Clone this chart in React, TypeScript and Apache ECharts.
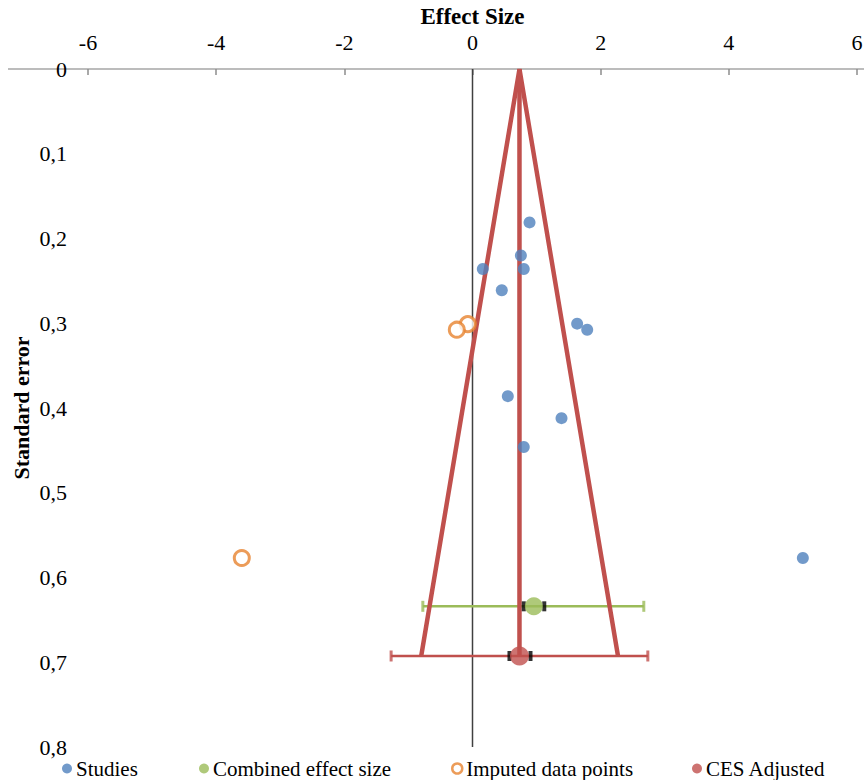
import React, { useEffect, useRef } from "react";
import * as echarts from "echarts";

// ---- data ----
const xTicks = [-6, -4, -2, 0, 2, 4, 6];
const seTicks = [0, 0.1, 0.2, 0.3, 0.4, 0.5, 0.6, 0.7, 0.8];

const studiesES = [0.89, 0.755, 0.161, 0.8, 0.457, 1.633, 1.79, 0.551, 1.389, 0.8, 5.155];
const studiesSE = [0.181, 0.22, 0.236, 0.236, 0.261, 0.3005, 0.3076, 0.386, 0.412, 0.446, 0.577];

const imputedES = [-0.073, -0.245, -3.6];
const imputedSE = [0.301, 0.3076, 0.577];

const combinedPoint = [0.957, 0.634];
const combinedBar = [-0.775, 2.673];
const combinedInner = [0.8, 1.12];

const adjustedPoint = [0.733, 0.6926];
const adjustedBar = [-1.27, 2.736];
const adjustedInner = [0.577, 0.905];

const funnelBase = [-0.8, 2.27];

const FONT = "'Times New Roman', 'Liberation Serif', serif";
const BLUE = "#4F81BD";
const GREEN = "#9BBB59";
const RED = "#C0504D";
const ORANGE = "#E7832F";

export default function App() {
  const ref = useRef<HTMLDivElement>(null);

  useEffect(() => {
    if (!ref.current) return;
    const chart = echarts.init(ref.current, undefined, { renderer: "svg" });

    const studies = studiesES.map((x, i) => [x, studiesSE[i]]);
    const imputed = imputedES.map((x, i) => [x, imputedSE[i]]);
    const funnel = [
      [funnelBase[0], adjustedPoint[1]],
      [adjustedPoint[0], 0],
      [funnelBase[1], adjustedPoint[1]],
    ];
    const vertical = [
      [adjustedPoint[0], 0],
      [adjustedPoint[0], adjustedPoint[1]],
    ];

    const legendItem = (name: string, left: number, itemStyle?: any) => ({
      left,
      top: 758,
      icon: "circle",
      itemWidth: 10,
      itemHeight: 10,
      itemGap: 0,
      padding: 0,
      textStyle: { fontFamily: FONT, fontSize: 21, color: "#000", padding: [0, 0, 0, -1] },
      data: [itemStyle ? { name, itemStyle } : name],
    });

    chart.setOption({
      animation: false,
      backgroundColor: "#fff",
      grid: { left: 88, right: 7, top: 69, bottom: 33, outerBoundsMode: "none", containLabel: false },
      xAxis: {
        type: "value",
        position: "top",
        min: xTicks[0],
        max: xTicks[xTicks.length - 1],
        interval: 2,
        name: "Effect Size",
        nameLocation: "middle",
        nameGap: 41,
        nameMoveOverlap: false,
        nameTextStyle: { fontFamily: FONT, fontSize: 23, fontWeight: "bold", color: "#000" },
        axisLine: { show: false },
        axisTick: { show: true, inside: true, length: 6, lineStyle: { color: "#8C8C8C", width: 1.5 } },
        axisLabel: { fontFamily: FONT, fontSize: 22, color: "#000", margin: 16 },
        splitLine: { show: false },
      },
      yAxis: {
        type: "value",
        inverse: true,
        min: seTicks[0],
        max: seTicks[seTicks.length - 1],
        interval: 0.1,
        name: "Standard error",
        nameLocation: "middle",
        nameGap: 56,
        nameMoveOverlap: false,
        nameRotate: 90,
        nameTextStyle: { fontFamily: FONT, fontSize: 22, fontWeight: "bold", color: "#000" },
        axisLine: { show: false },
        axisTick: { show: false },
        axisLabel: {
          fontFamily: FONT,
          fontSize: 22,
          color: "#000",
          margin: 21,
          verticalAlign: "middle",
          formatter: (v: number) => String(+v.toFixed(1)).replace(".", ","),
        },
        splitLine: { show: false },
      },
      legend: [
        legendItem("Studies", 62),
        legendItem("Combined effect size", 199),
        legendItem("Imputed data points", 451, { color: "#fff", borderColor: ORANGE, borderWidth: 2.5 }),
        legendItem("CES Adjusted", 692),
      ],
      graphic: [
        {
          type: "line",
          shape: { x1: 8, y1: 69, x2: 864, y2: 69 },
          style: { stroke: "#A6A6A6", lineWidth: 1.5 },
          z: 0,
        },
      ],
      series: [
        {
          name: "zero",
          type: "line",
          data: [
            [0, seTicks[0]],
            [0, seTicks[seTicks.length - 1]],
          ],
          showSymbol: false,
          lineStyle: { color: "#404040", width: 1.5 },
          silent: true,
          z: 1,
        },
        {
          name: "combinedBar",
          type: "line",
          data: [
            [combinedBar[0], combinedPoint[1]],
            [combinedBar[1], combinedPoint[1]],
          ],
          showSymbol: false,
          lineStyle: { color: GREEN, width: 2.5 },
          silent: true,
          z: 2,
        },
        {
          name: "combinedCaps",
          type: "scatter",
          data: combinedBar.map((x) => [x, combinedPoint[1]]),
          symbol: "rect",
          symbolSize: [3, 11],
          itemStyle: { color: GREEN },
          silent: true,
          z: 2,
        },
        {
          name: "adjustedBar",
          type: "line",
          data: [
            [adjustedBar[0], adjustedPoint[1]],
            [adjustedBar[1], adjustedPoint[1]],
          ],
          showSymbol: false,
          lineStyle: { color: RED, width: 2.5 },
          silent: true,
          z: 2,
        },
        {
          name: "adjustedCaps",
          type: "scatter",
          data: adjustedBar.map((x) => [x, adjustedPoint[1]]),
          symbol: "rect",
          symbolSize: [3, 11],
          itemStyle: { color: RED },
          silent: true,
          z: 2,
        },
        {
          name: "funnel",
          type: "line",
          data: funnel,
          showSymbol: false,
          lineStyle: { color: RED, width: 4.5 },
          silent: true,
          z: 3,
        },
        {
          name: "centre",
          type: "line",
          data: vertical,
          showSymbol: false,
          lineStyle: { color: RED, width: 4.5 },
          silent: true,
          z: 3,
        },
        {
          name: "innerCaps",
          type: "scatter",
          data: [
            ...combinedInner.map((x) => [x, combinedPoint[1]]),
            ...adjustedInner.map((x) => [x, adjustedPoint[1]]),
          ],
          symbol: "rect",
          symbolSize: [4, 10],
          itemStyle: { color: "#000" },
          silent: true,
          z: 4,
        },
        {
          name: "Studies",
          type: "scatter",
          data: studies,
          symbol: "circle",
          symbolSize: 12,
          itemStyle: { color: BLUE },
          z: 5,
        },
        {
          name: "Imputed data points",
          type: "scatter",
          data: imputed,
          symbol: "circle",
          symbolSize: 15,
          itemStyle: { color: "#fff", borderColor: ORANGE, borderWidth: 3 },
          z: 5,
        },
        {
          name: "Combined effect size",
          type: "scatter",
          data: [combinedPoint],
          symbol: "circle",
          symbolSize: 18,
          itemStyle: { color: GREEN },
          z: 5,
        },
        {
          name: "CES Adjusted",
          type: "scatter",
          data: [adjustedPoint],
          symbol: "circle",
          symbolSize: 19,
          itemStyle: { color: RED },
          z: 5,
        },
      ],
    });

    return () => chart.dispose();
  }, []);

  return (
    <div
      ref={ref}
      style={{ position: "absolute", left: 0, top: 0, width: 864, height: 780 }}
    />
  );
}
